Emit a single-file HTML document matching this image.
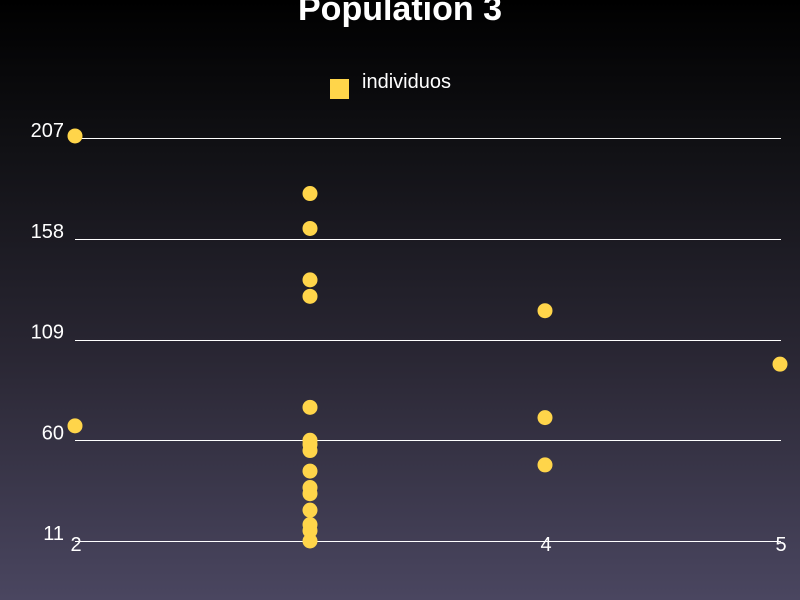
<!DOCTYPE html>
<html><head><meta charset="utf-8"><style>
html,body{margin:0;padding:0;width:800px;height:600px;overflow:hidden}
body{background:linear-gradient(#000 0%,#111115 25%,#2a2734 60%,#4a4660 100%);font-family:"Liberation Sans",sans-serif}
</style></head><body>
<svg id="chart" width="800" height="600" xmlns="http://www.w3.org/2000/svg" font-family="Liberation Sans, sans-serif">
<text x="400" y="20" text-anchor="middle" fill="#fff" font-size="34" font-weight="bold">Population 3</text>
<rect x="330" y="79" width="19" height="20" fill="#ffd54a"/>
<text x="362" y="88" fill="#fff" font-size="20">individuos</text>
<g id="grid"></g><g id="pts"></g>
</svg>
<script>
const xCats=[2,3,4,5];
const xLabels=["2","","4","5"];
const yTicks=[11,60,109,158,207];
const ptX=[2,2,3,3,3,3,3,3,3,3,3,3,3,3,3,3,3,4,4,4,5];
const ptY=[208,67,180,163,138,130,76,60,58,55,45,37,34,26,19,16,11,123,71,48,97];
const NS="http://www.w3.org/2000/svg";
function xs(v){return 75+(v-2)*235;}
function ys(v){return 541-(v-11)*(403/196);}
const g=document.getElementById('grid'),p=document.getElementById('pts');
yTicks.forEach(t=>{
 const l=document.createElementNS(NS,'line');
 
 
 const y=Math.round(ys(t))+0.5;
 l.setAttribute('x1',75);l.setAttribute('x2',781);
 l.setAttribute('y1',y);l.setAttribute('y2',y);
 l.setAttribute('stroke','#fff');l.setAttribute('stroke-width','1');l.setAttribute('shape-rendering','crispEdges');
 g.appendChild(l);
 const tx=document.createElementNS(NS,'text');
 
 
 tx.setAttribute('x',64);tx.setAttribute('y',ys(t)-1);
 tx.setAttribute('text-anchor','end');tx.setAttribute('fill','#fff');tx.setAttribute('font-size','20');
 tx.textContent=t;g.appendChild(tx);
});
xCats.forEach((c,i)=>{
 const tx=document.createElementNS(NS,'text');
 
 
 tx.setAttribute('x',xs(c)+1);tx.setAttribute('y',551);
 tx.setAttribute('text-anchor','middle');tx.setAttribute('fill','#fff');tx.setAttribute('font-size','20');
 tx.textContent=xLabels[i];g.appendChild(tx);
});
ptX.forEach((x,i)=>{
 const c=document.createElementNS(NS,'circle');
 
 
 c.setAttribute('cx',xs(x));c.setAttribute('cy',ys(ptY[i]));c.setAttribute('r',7.5);
 c.setAttribute('fill','#ffd54a');p.appendChild(c);
});
</script>
</body></html>
